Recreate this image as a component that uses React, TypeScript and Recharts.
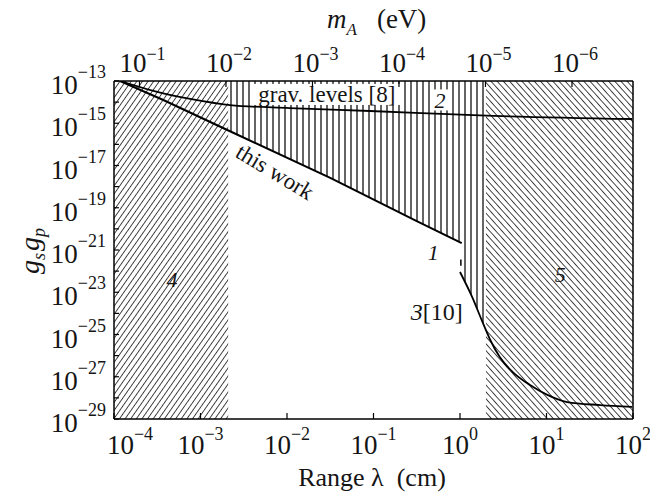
import React from "react";
import {
  ComposedChart,
  XAxis,
  YAxis,
  Line,
  Area,
  ReferenceArea,
  ReferenceLine,
  ReferenceDot,
} from "recharts";

// x = log10 of range λ (cm), y = log10 of g_s g_p
const lambdaTicks = [-4, -3, -2, -1, 0, 1, 2];
const couplingTicks = [
  -29, -28, -27, -26, -25, -24, -23, -22, -21, -20, -19, -18, -17, -16, -15, -14, -13,
];
const massExponents = [-1, -2, -3, -4, -5, -6];
const HBAR_C = 1.97e-5; // eV·cm, m_A -> λ

// curve 1, "this work"
const thisWork = [
  { x: -3.93, y: -13.0 },
  { x: -3.43, y: -13.9 },
  { x: -2.69, y: -15.32 },
  { x: -1.5, y: -17.59 },
  { x: -0.5, y: -19.63 },
  { x: 0.02, y: -20.67 },
];

// gravitational levels [8]
const gravLevels = [
  { x: -3.93, y: -13.0 },
  { x: -3.5, y: -13.52 },
  { x: -3.12, y: -13.85 },
  { x: -2.66, y: -14.14 },
  { x: -1.97, y: -14.28 },
  { x: -1.04, y: -14.42 },
  { x: 0.23, y: -14.63 },
  { x: 1.99, y: -14.8 },
];

// curve 3 [10]
const casimir10 = [
  { x: 0.0, y: -22.04 },
  { x: 0.14, y: -23.22 },
  { x: 0.25, y: -24.31 },
  { x: 0.35, y: -25.26 },
  { x: 0.46, y: -26.07 },
  { x: 0.61, y: -26.78 },
  { x: 0.81, y: -27.39 },
  { x: 1.01, y: -27.86 },
  { x: 1.24, y: -28.2 },
  { x: 1.62, y: -28.34 },
  { x: 1.99, y: -28.43 },
];
const casimirDash = [
  { x: 0.01, y: -21.45 },
  { x: 0.01, y: -21.75 },
];

// excluded regions
const region2Edge = [
  { x: -2.68, y: -15.35 },
  { x: -1.5, y: -17.59 },
  { x: -0.5, y: -19.63 },
  { x: 0.02, y: -20.67 },
  { x: 0.04, y: -22.3 },
  { x: 0.14, y: -23.22 },
  { x: 0.25, y: -24.31 },
  { x: 0.3, y: -24.75 },
];
const region4 = [-4, -2.68];
const region5 = [0.3, 2];

// label anchors [x, y]
const gravLabelAt = [-1.54, -13.66];
const twoLabelAt = [-0.23, -13.92];
const workLabelAt = [-2.14, -17.31];
const oneLabelAt = [-0.31, -21.14];
const threeLabelAt = [-0.27, -23.94];
const fourLabelAt = [-3.33, -22.42];
const fiveLabelAt = [1.16, -22.18];

const FONT = "'Liberation Serif', 'Times New Roman', serif";
const INK = "#151515";

const sup = (v: number) => (v < 0 ? "\u2212" + Math.abs(v) : String(v));

const BottomTick = ({ x, y, payload }: any) => {
  const v = payload.value;
  const shift = v === lambdaTicks[0] ? 16 : 0;
  return (
    <g>
      <line x1={x} y1={y} x2={x} y2={y - 6} stroke="#000" strokeWidth={1.2} />
      <text x={x + shift} y={y + 35} textAnchor="middle" fontFamily={FONT} fontSize={27} fill={INK}>
        10
        <tspan fontSize={18} dy={-14}>
          {sup(v)}
        </tspan>
      </text>
    </g>
  );
};

const TopTick = ({ x, y, payload }: any) => {
  const m = Math.round(Math.log10(HBAR_C) - payload.value);
  return (
    <g>
      <line x1={x} y1={y} x2={x} y2={y + 6} stroke="#000" strokeWidth={1.2} />
      <text x={x + 3} y={y - 9} textAnchor="middle" fontFamily={FONT} fontSize={27} fill={INK}>
        10
        <tspan fontSize={18} dy={-12}>
          {sup(m)}
        </tspan>
      </text>
    </g>
  );
};

const LeftTick = ({ x, y, payload }: any) => {
  const v = payload.value;
  return (
    <g>
      <line x1={x} y1={y} x2={x + 5} y2={y} stroke="#000" strokeWidth={1.2} />
      {v % 2 !== 0 && (
        <text x={x - 8} y={y + 13} textAnchor="end" fontFamily={FONT} fontSize={27} fill={INK}>
          10
          <tspan fontSize={18} dy={-16}>
            {sup(v)}
          </tspan>
        </text>
      )}
    </g>
  );
};

const note =
  (content: React.ReactNode, opts: { size?: number; italic?: boolean; rotate?: number; box?: number } = {}) =>
  (p: any) => {
    const { cx, cy } = p;
    const size = opts.size ?? 22;
    return (
      <g>
        {opts.box ? (
          <rect x={cx - opts.box / 2} y={cy - 11} width={opts.box} height={21} fill="#fff" />
        ) : null}
        <text
          x={cx}
          y={cy}
          textAnchor="middle"
          dominantBaseline="central"
          fontFamily={FONT}
          fontSize={size}
          fontStyle={opts.italic ? "italic" : "normal"}
          fill={INK}
          transform={opts.rotate ? `rotate(${opts.rotate} ${cx} ${cy})` : undefined}
        >
          {content}
        </text>
      </g>
    );
  };

export default function App() {
  return (
    <div style={{ position: "absolute", left: 0, top: 0, width: 650, height: 496, background: "#fff" }}>
      <ComposedChart width={650} height={496} margin={{ top: 21, right: 17, bottom: 37, left: 0 }}>
        <defs>
          <pattern id="hatchRise" patternUnits="userSpaceOnUse" width={4.6} height={4.6} patternTransform="rotate(35)">
            <line x1={2.3} y1={-1} x2={2.3} y2={6} stroke="#333" strokeWidth={0.9} />
          </pattern>
          <pattern id="hatchFall" patternUnits="userSpaceOnUse" width={4.6} height={4.6} patternTransform="rotate(-42)">
            <line x1={2.3} y1={-1} x2={2.3} y2={6} stroke="#333" strokeWidth={0.9} />
          </pattern>
          <pattern id="stripes" patternUnits="userSpaceOnUse" width={6} height={6}>
            <line x1={3} y1={-1} x2={3} y2={7} stroke="#111" strokeWidth={1.3} />
          </pattern>
        </defs>

        <XAxis
          dataKey="x"
          type="number"
          domain={[-4, 2]}
          ticks={lambdaTicks}
          interval={0}
          allowDataOverflow
          height={40}
          tickSize={0}
          tickMargin={0}
          tick={(p: any) => <BottomTick {...p} />}
          axisLine={{ stroke: "#000", strokeWidth: 1.5 }}
        />
        <XAxis
          xAxisId="top"
          orientation="top"
          dataKey="x"
          type="number"
          domain={[-4, 2]}
          ticks={massExponents.map((e) => Math.log10(HBAR_C / Math.pow(10, e)))}
          interval={0}
          allowDataOverflow
          height={60}
          tickSize={0}
          tickMargin={0}
          tick={(p: any) => <TopTick {...p} />}
          axisLine={{ stroke: "#000", strokeWidth: 1.5 }}
        />
        <YAxis
          type="number"
          domain={[-29, -13]}
          ticks={couplingTicks}
          interval={0}
          allowDataOverflow
          width={114}
          tickSize={0}
          tickMargin={0}
          tick={(p: any) => <LeftTick {...p} />}
          axisLine={{ stroke: "#000", strokeWidth: 1.5 }}
        />

        <ReferenceArea x1={region4[0]} x2={region4[1]} fill="url(#hatchRise)" fillOpacity={1} stroke="none" />
        <ReferenceArea x1={region5[0]} x2={region5[1]} fill="url(#hatchFall)" fillOpacity={1} stroke="none" />

        <Area
          data={region2Edge}
          dataKey="y"
          type="linear"
          baseValue={-13}
          fill="url(#stripes)"
          fillOpacity={1}
          stroke="none"
          dot={false}
          activeDot={false}
          isAnimationActive={false}
        />

        <Line data={gravLevels} dataKey="y" type="monotone" stroke="#000" strokeWidth={1.8} dot={false} activeDot={false} isAnimationActive={false} />
        <Line data={thisWork} dataKey="y" type="linear" stroke="#000" strokeWidth={2} dot={false} activeDot={false} isAnimationActive={false} />
        <Line data={casimir10} dataKey="y" type="monotone" stroke="#000" strokeWidth={1.8} dot={false} activeDot={false} isAnimationActive={false} />
        <Line data={casimirDash} dataKey="y" type="linear" stroke="#000" strokeWidth={1.5} dot={false} activeDot={false} isAnimationActive={false} />

        <ReferenceLine x={2} stroke="#000" strokeWidth={1.5} />

        <ReferenceDot x={gravLabelAt[0]} y={gravLabelAt[1]} r={0} shape={note("grav. levels [8]", { size: 23, box: 148 })} />
        <ReferenceDot x={twoLabelAt[0]} y={twoLabelAt[1]} r={0} shape={note("2", { italic: true, box: 16 })} />
        <ReferenceDot x={workLabelAt[0]} y={workLabelAt[1]} r={0} shape={note("this work", { size: 23, rotate: 31 })} />
        <ReferenceDot x={oneLabelAt[0]} y={oneLabelAt[1]} r={0} shape={note("1", { italic: true })} />
        <ReferenceDot
          x={threeLabelAt[0]}
          y={threeLabelAt[1]}
          r={0}
          shape={note(
            <>
              <tspan fontStyle="italic">3</tspan>[10]
            </>,
            { size: 24 }
          )}
        />
        <ReferenceDot x={fourLabelAt[0]} y={fourLabelAt[1]} r={0} shape={note("4", { italic: true })} />
        <ReferenceDot x={fiveLabelAt[0]} y={fiveLabelAt[1]} r={0} shape={note("5", { italic: true })} />
      </ComposedChart>

      <svg width={650} height={496} style={{ position: "absolute", left: 0, top: 0, pointerEvents: "none" }}>
        <text x={372} y={486} textAnchor="middle" fontFamily={FONT} fontSize={26} fill={INK}>
          {"Range \u03bb\u00a0\u00a0(cm)"}
        </text>
        <text x={327} y={28} fontFamily={FONT} fontSize={27} fill={INK}>
          <tspan fontStyle="italic">m</tspan>
          <tspan fontStyle="italic" fontSize={17} dy={7}>
            A
          </tspan>
          <tspan dy={-7} dx={20}>
            (eV)
          </tspan>
        </text>
        <text
          transform="translate(39 251) rotate(-90)"
          textAnchor="middle"
          fontFamily={FONT}
          fontSize={28}
          fontStyle="italic"
          fill={INK}
        >
          g
          <tspan fontSize={18} dy={6}>
            s
          </tspan>
          <tspan dy={-6} dx={2}>
            g
          </tspan>
          <tspan fontSize={18} dy={6}>
            p
          </tspan>
        </text>
      </svg>
    </div>
  );
}
